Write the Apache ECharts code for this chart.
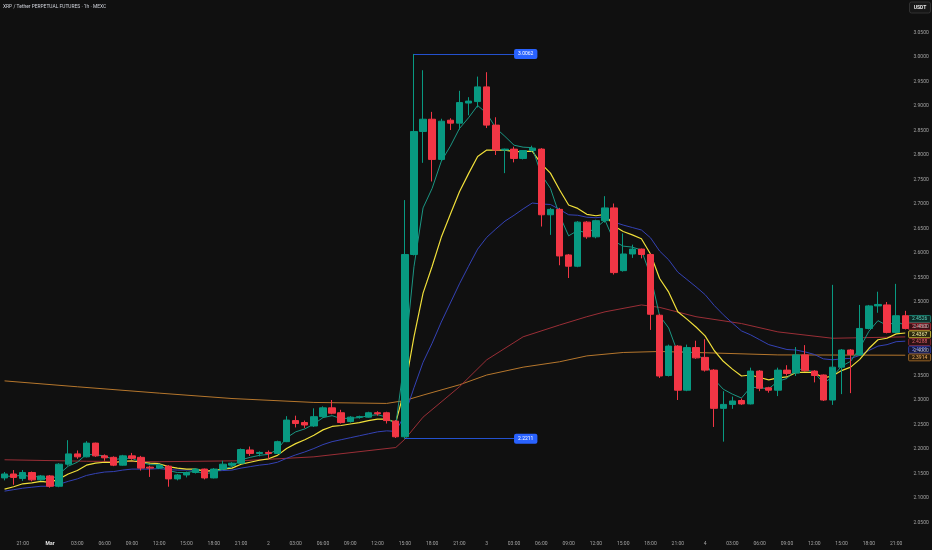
<!DOCTYPE html>
<html>
<head>
<meta charset="utf-8">
<script src="https://cdn.jsdelivr.net/npm/echarts@6/dist/echarts.min.js"></script>
<style>
  html, body { margin: 0; padding: 0; background: #101010; }
  #chart { width: 932px; height: 550px; }
</style>
</head>
<body>
<div id="chart"></div>
<script>
// XRP/USDT perpetual, 1h candles from Feb 28 19:00
const startTime = Date.UTC(2025, 1, 28, 19)

const opens = [
  2.141, 2.149, 2.140, 2.152, 2.137, 2.145, 2.124, 2.169, 2.190, 2.184,
  2.212, 2.186, 2.183, 2.167, 2.186, 2.183, 2.163, 2.161, 2.165, 2.139,
  2.147, 2.152, 2.159, 2.141, 2.159, 2.167, 2.171, 2.198, 2.191, 2.193,
  2.191, 2.215, 2.258, 2.254, 2.247, 2.266, 2.284, 2.274, 2.256, 2.265,
  2.265, 2.274, 2.274, 2.257, 2.225, 2.597, 2.848, 2.873, 2.791, 2.871,
  2.865, 2.906, 2.909, 2.939, 2.861, 2.810, 2.812, 2.793, 2.809, 2.812,
  2.678, 2.689, 2.596, 2.573, 2.663, 2.633, 2.666, 2.692, 2.564, 2.598,
  2.608, 2.597, 2.473, 2.350, 2.410, 2.320, 2.407, 2.387, 2.361, 2.283,
  2.291, 2.299, 2.292, 2.359, 2.325, 2.320, 2.361, 2.355, 2.392, 2.359,
  2.351, 2.300, 2.367, 2.402, 2.392, 2.446, 2.492, 2.494, 2.438, 2.472
]
const closes = [
  2.149, 2.142, 2.152, 2.137, 2.145, 2.124, 2.169, 2.190, 2.184, 2.212,
  2.186, 2.182, 2.167, 2.186, 2.181, 2.161, 2.161, 2.167, 2.139, 2.147,
  2.152, 2.159, 2.141, 2.159, 2.169, 2.171, 2.199, 2.191, 2.193, 2.191,
  2.215, 2.259, 2.252, 2.249, 2.266, 2.284, 2.273, 2.254, 2.265, 2.266,
  2.274, 2.272, 2.258, 2.225, 2.597, 2.848, 2.873, 2.791, 2.869, 2.865,
  2.907, 2.910, 2.939, 2.861, 2.810, 2.812, 2.793, 2.809, 2.814, 2.678,
  2.689, 2.594, 2.573, 2.663, 2.633, 2.666, 2.692, 2.560, 2.598, 2.608,
  2.597, 2.475, 2.349, 2.410, 2.320, 2.407, 2.386, 2.361, 2.283, 2.291,
  2.298, 2.292, 2.359, 2.324, 2.320, 2.361, 2.354, 2.392, 2.360, 2.350,
  2.300, 2.367, 2.402, 2.393, 2.446, 2.492, 2.495, 2.438, 2.472, 2.446
]
const lows = [
  2.136, 2.127, 2.135, 2.134, 2.135, 2.121, 2.122, 2.166, 2.180, 2.183,
  2.184, 2.176, 2.165, 2.166, 2.178, 2.156, 2.143, 2.159, 2.123, 2.136,
  2.142, 2.150, 2.138, 2.140, 2.158, 2.165, 2.170, 2.186, 2.185, 2.180,
  2.190, 2.214, 2.244, 2.243, 2.245, 2.264, 2.271, 2.252, 2.254, 2.262,
  2.264, 2.268, 2.252, 2.2225, 2.2211, 2.595, 2.784, 2.746, 2.787, 2.851,
  2.852, 2.881, 2.897, 2.855, 2.800, 2.763, 2.785, 2.791, 2.807, 2.654,
  2.637, 2.575, 2.549, 2.571, 2.629, 2.630, 2.662, 2.556, 2.562, 2.590,
  2.589, 2.443, 2.345, 2.348, 2.300, 2.318, 2.384, 2.358, 2.245, 2.215,
  2.282, 2.290, 2.291, 2.318, 2.315, 2.308, 2.350, 2.349, 2.358, 2.336,
  2.298, 2.290, 2.312, 2.314, 2.390, 2.444, 2.478, 2.436, 2.436, 2.444
]
const highs = [
  2.153, 2.157, 2.157, 2.154, 2.147, 2.147, 2.171, 2.218, 2.197, 2.216,
  2.213, 2.189, 2.185, 2.188, 2.192, 2.186, 2.166, 2.170, 2.167, 2.149,
  2.154, 2.161, 2.160, 2.161, 2.176, 2.173, 2.201, 2.205, 2.195, 2.197,
  2.217, 2.267, 2.268, 2.258, 2.283, 2.287, 2.300, 2.280, 2.267, 2.268,
  2.276, 2.277, 2.276, 2.259, 2.708, 3.0062, 2.973, 2.888, 2.874, 2.875,
  2.931, 2.918, 2.960, 2.969, 2.877, 2.813, 2.817, 2.810, 2.819, 2.814,
  2.692, 2.692, 2.598, 2.665, 2.665, 2.668, 2.716, 2.701, 2.640, 2.617,
  2.609, 2.599, 2.475, 2.413, 2.412, 2.413, 2.421, 2.424, 2.363, 2.318,
  2.307, 2.303, 2.366, 2.361, 2.327, 2.366, 2.371, 2.408, 2.412, 2.361,
  2.352, 2.535, 2.404, 2.404, 2.494, 2.494, 2.521, 2.500, 2.537, 2.482
]

// moving averages
const maFast = [
  2.145, 2.144, 2.147, 2.143, 2.144, 2.136, 2.149, 2.165, 2.173, 2.189,
  2.188, 2.186, 2.178, 2.181, 2.181, 2.173, 2.168, 2.168, 2.156, 2.152,
  2.152, 2.155, 2.149, 2.153, 2.159, 2.164, 2.178, 2.183, 2.187, 2.189,
  2.199, 2.223, 2.235, 2.241, 2.251, 2.264, 2.268, 2.262, 2.263, 2.264,
  2.268, 2.270, 2.265, 2.249, 2.388, 2.572, 2.692, 2.732, 2.787, 2.818,
  2.854, 2.876, 2.901, 2.885, 2.855, 2.838, 2.820, 2.816, 2.815, 2.760,
  2.732, 2.677, 2.635, 2.646, 2.641, 2.651, 2.667, 2.624, 2.614, 2.612,
  2.606, 2.554, 2.472, 2.447, 2.396, 2.400, 2.394, 2.381, 2.342, 2.322,
  2.312, 2.304, 2.326, 2.325, 2.323, 2.338, 2.344, 2.363, 2.362, 2.357,
  2.334, 2.347, 2.369, 2.379, 2.406, 2.440, 2.462, 2.452, 2.460, 2.4526
]
const maYellow = [
  2.118, 2.123, 2.129, 2.131, 2.134, 2.132, 2.139, 2.149, 2.156, 2.167,
  2.171, 2.173, 2.172, 2.175, 2.176, 2.173, 2.171, 2.170, 2.164, 2.161,
  2.159, 2.159, 2.155, 2.156, 2.159, 2.161, 2.169, 2.173, 2.177, 2.180,
  2.187, 2.201, 2.211, 2.219, 2.228, 2.239, 2.246, 2.248, 2.251, 2.254,
  2.258, 2.261, 2.261, 2.254, 2.324, 2.429, 2.518, 2.573, 2.632, 2.679,
  2.725, 2.762, 2.797, 2.810, 2.810, 2.810, 2.807, 2.807, 2.808, 2.782,
  2.763, 2.729, 2.698, 2.691, 2.679, 2.676, 2.679, 2.655, 2.644, 2.637,
  2.629, 2.598, 2.548, 2.520, 2.480, 2.465, 2.449, 2.431, 2.401, 2.379,
  2.363, 2.349, 2.351, 2.346, 2.341, 2.345, 2.347, 2.356, 2.357, 2.356,
  2.345, 2.349, 2.360, 2.367, 2.383, 2.405, 2.423, 2.426, 2.435, 2.4367
]
const maBlue = [
  2.114, 2.117, 2.120, 2.122, 2.124, 2.124, 2.128, 2.134, 2.139, 2.146,
  2.150, 2.153, 2.154, 2.157, 2.159, 2.159, 2.159, 2.160, 2.158, 2.157,
  2.157, 2.157, 2.155, 2.155, 2.156, 2.157, 2.161, 2.164, 2.167, 2.169,
  2.173, 2.181, 2.188, 2.194, 2.201, 2.209, 2.215, 2.219, 2.223, 2.227,
  2.231, 2.235, 2.237, 2.236, 2.270, 2.325, 2.377, 2.416, 2.459, 2.498,
  2.537, 2.573, 2.608, 2.632, 2.649, 2.665, 2.677, 2.690, 2.702, 2.700,
  2.699, 2.689, 2.678, 2.677, 2.673, 2.672, 2.674, 2.663, 2.657, 2.652,
  2.647, 2.631, 2.604, 2.586, 2.561, 2.546, 2.531, 2.515, 2.493, 2.474,
  2.457, 2.441, 2.433, 2.423, 2.413, 2.408, 2.403, 2.402, 2.398, 2.393,
  2.384, 2.382, 2.384, 2.385, 2.391, 2.401, 2.410, 2.413, 2.419, 2.4201
]
// slow averages, [candle index, value]
const maRed = [
  [0, 2.178], [9, 2.175], [17, 2.174], [26, 2.176], [34, 2.184], [43, 2.203],
  [44, 2.220], [46, 2.265], [50, 2.327], [53, 2.382], [57, 2.429], [61, 2.453],
  [64, 2.470], [66, 2.480], [70, 2.494], [72, 2.489], [76, 2.470], [81, 2.456],
  [85, 2.439], [91, 2.426], [99, 2.4288]
]
const maOrange = [
  [0, 2.339], [8, 2.327], [17, 2.314], [25, 2.303], [34, 2.295], [42, 2.293],
  [44, 2.299], [46, 2.310], [50, 2.331], [53, 2.351], [57, 2.367], [61, 2.378],
  [64, 2.390], [68, 2.397], [72, 2.399], [76, 2.397], [85, 2.392], [99, 2.3914]
]

const yTicks = { min: 2.0, max: 3.1, step: 0.05 }

const UP = '#089981'
const DOWN = '#f23645'
const FONT = 'Roboto, "Liberation Sans", sans-serif'

const times = opens.map((_, i) => startTime + i * 3600000)
const candles = opens.map((o, i) => [o, closes[i], lows[i], highs[i]])

// high of the range and the low that started the spike
const hi = Math.max(...highs)
const hiIdx = highs.indexOf(hi)
const spikeLows = lows.slice(hiIdx - 4, hiIdx + 1)
const lo = Math.min(...spikeLows)
const loIdx = hiIdx - 4 + spikeLows.indexOf(lo)

const hourOf = t => new Date(t).getUTCHours()
const timeLabel = t => {
  const d = new Date(t)
  const h = d.getUTCHours()
  if (h === 0) return d.getUTCDate() === 1 ? '{m|Mar}' : String(d.getUTCDate())
  return (h < 10 ? '0' : '') + h + ':00'
}

const maLine = (name, data, color, width) => ({
  name,
  type: 'line',
  data,
  showSymbol: false,
  symbol: 'none',
  silent: true,
  lineStyle: { color, width },
  z: 3
})

const chart = echarts.init(document.getElementById('chart'))
chart.setOption({
  animation: false,
  backgroundColor: '#101010',
  grid: { left: -4.3, right: 22.2, top: 8, bottom: 3 },
  xAxis: {
    type: 'category',
    data: times,
    boundaryGap: true,
    axisLine: { show: false },
    axisTick: { show: false },
    splitLine: { show: false },
    axisLabel: {
      inside: true,
      margin: 1,
      fontSize: 5,
      fontFamily: FONT,
      color: '#a3a3a3',
      interval: (i, v) => hourOf(Number(v)) % 3 === 0,
      formatter: v => timeLabel(Number(v)),
      rich: { m: { fontSize: 5, fontWeight: 'bold', color: '#e6e6e6', fontFamily: FONT } }
    }
  },
  yAxis: {
    type: 'value',
    position: 'right',
    min: yTicks.min,
    max: yTicks.max,
    interval: yTicks.step,
    axisLine: { show: false },
    axisTick: { show: false },
    splitLine: { show: false },
    axisLabel: {
      margin: 19,
      align: 'right',
      fontSize: 5,
      fontFamily: FONT,
      color: '#a3a3a3',
      formatter: v => (v < 2.02 || v > 3.07 ? '' : v.toFixed(4))
    }
  },
  series: [
    maLine('orange', maOrange, '#b5762c', 1),
    maLine('red', maRed, '#9a2e36', 1),
    maLine('blue', maBlue, '#3442b5', 1),
    maLine('yellow', maYellow, '#f0df3a', 1.2),
    maLine('fast', maFast, '#1b9683', 1),
    {
      type: 'candlestick',
      data: candles,
      barWidth: '76%',
      z: 4,
      itemStyle: { color: UP, color0: DOWN, borderColor: UP, borderColor0: DOWN, borderWidth: 1 },
      markLine: {
        silent: true,
        symbol: ['none', 'none'],
        lineStyle: { color: '#2962ff', width: 0.8, type: 'solid' },
        label: {
          position: 'end',
          distance: 0,
          formatter: p => p.name,
          color: '#ffffff',
          fontSize: 5,
          fontFamily: FONT,
          backgroundColor: '#2962ff',
          padding: [2.5, 4],
          borderRadius: 2
        },
        data: [
          [{ name: hi.toFixed(4), coord: [hiIdx, hi] }, { coord: [hiIdx + 11, hi] }],
          [{ name: lo.toFixed(4), coord: [loIdx, lo] }, { coord: [loIdx + 12, lo] }]
        ]
      }
    }
  ]
})

// last-value tags on the price scale, stacked so they do not overlap
const last = a => (Array.isArray(a[a.length - 1]) ? a[a.length - 1][1] : a[a.length - 1])
const tags = [
  { v: last(maFast), stroke: '#1b9683', fill: '#0c2c27', text: '#5fd0bd' },
  { v: last(closes), stroke: '#c22a38', fill: '#3a1116', text: '#ff6f7d' },
  { v: last(maYellow), stroke: '#e8d63a', fill: '#2b2810', text: '#fff6a8' },
  { v: last(maRed), stroke: '#9a2e36', fill: '#2a1214', text: '#e0606a' },
  { v: last(maBlue), stroke: '#3442b5', fill: '#12163a', text: '#7f8dff' },
  { v: last(maOrange), stroke: '#b5762c', fill: '#2d1f0e', text: '#f0b060' }
]
tags.forEach(t => { t.y = chart.convertToPixel({ yAxisIndex: 0 }, t.v) })
const TAG_H = 7.7
let groups = tags.slice().sort((a, b) => a.y - b.y).map(t => ({ items: [t], sum: t.y }))
let merged = true
while (merged) {
  merged = false
  for (let k = 0; k < groups.length - 1; k++) {
    const a = groups[k]
    const b = groups[k + 1]
    const aEnd = a.sum / a.items.length + (a.items.length * TAG_H) / 2
    const bStart = b.sum / b.items.length - (b.items.length * TAG_H) / 2
    if (aEnd + 1 > bStart) {
      a.items = a.items.concat(b.items)
      a.sum += b.sum
      groups.splice(k + 1, 1)
      merged = true
      break
    }
  }
}
groups.forEach(g => {
  const top = g.sum / g.items.length - (g.items.length * TAG_H) / 2 + 1.5
  g.items.forEach((t, j) => { t.py = top + TAG_H * (j + 0.5) })
})

const graphics = [
  {
    type: 'text',
    left: 3,
    top: 4.5,
    style: { text: 'XRP / Tether PERPETUAL FUTURES · 1h · MEXC', fill: '#d1d4dc', font: '4.9px ' + FONT }
  },
  {
    type: 'rect',
    shape: { x: 909.5, y: 2, width: 21, height: 11, r: 2 },
    style: { fill: '#171717', stroke: '#3a3a3a', lineWidth: 0.8 }
  },
  {
    type: 'text',
    x: 920,
    y: 7.6,
    style: { text: 'USDT', fill: '#e6e6e6', font: 'bold 5px ' + FONT, textAlign: 'center', textVerticalAlign: 'middle' }
  }
]
tags.forEach(t => {
  graphics.push({
    type: 'rect',
    shape: { x: 908.6, y: t.py - TAG_H / 2 + 0.4, width: 22, height: TAG_H - 0.8, r: 1 },
    style: { fill: t.fill, stroke: t.stroke, lineWidth: 0.8 }
  })
  graphics.push({
    type: 'text',
    x: 919.6,
    y: t.py,
    style: { text: t.v.toFixed(4), fill: t.text, font: '5px ' + FONT, textAlign: 'center', textVerticalAlign: 'middle' }
  })
})
chart.setOption({ graphic: graphics })
</script>
</body>
</html>
